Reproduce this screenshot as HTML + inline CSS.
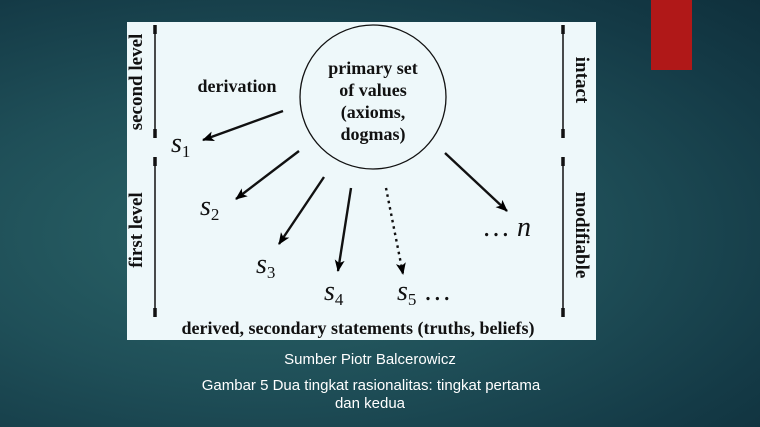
<!DOCTYPE html>
<html><head><meta charset="utf-8"><style>
html,body{margin:0;padding:0;width:760px;height:427px;overflow:hidden}
body{background:radial-gradient(ellipse at 35% 55%,#2b6568 0%,#1f4f58 45%,#143a46 80%,#0f303c 100%)}
</style></head><body>
<svg width="760" height="427" viewBox="0 0 760 427" xmlns="http://www.w3.org/2000/svg" style="position:absolute;left:0;top:0">
<defs>
<marker id="a" markerWidth="14" markerHeight="14" refX="11" refY="6" orient="auto" markerUnits="userSpaceOnUse">
<path d="M0,1 L12,6 L0,11 L3,6 Z" fill="#000"/></marker>
</defs>
<rect x="651" y="0" width="41" height="70" fill="#b01818"/>
<rect x="127" y="22" width="469" height="318" fill="#eef8fa"/>
<g stroke="#111" fill="none">
<ellipse cx="373" cy="97" rx="73" ry="72" stroke-width="1.3"/>
<g stroke-width="1.5">
<path d="M155,25 V138 M155,157 V317 M563,25 V138 M563,157 V317"/>
</g>
<g stroke-width="3.5">
<path d="M155,25 v9 M155,129 v9 M155,157 v9 M155,308 v9 M563,25 v9 M563,129 v9 M563,157 v9 M563,308 v9"/>
</g>
<g stroke-width="2.4" marker-end="url(#a)">
<line x1="283" y1="111" x2="203" y2="140"/>
<line x1="299" y1="151" x2="236" y2="199"/>
<line x1="324" y1="177" x2="279" y2="244"/>
<line x1="351" y1="188" x2="338" y2="271"/>
<line x1="386" y1="188" x2="403" y2="274" stroke-dasharray="2.5,4"/>
<line x1="445" y1="153" x2="507" y2="211"/>
</g>
</g>
<g font-family="Liberation Serif, serif" font-weight="bold" fill="#111" font-size="18" text-anchor="middle">
<text x="373" y="74">primary set</text>
<text x="373" y="96">of values</text>
<text x="373" y="118">(axioms,</text>
<text x="373" y="140">dogmas)</text>
<text x="237" y="92">derivation</text>
<text x="358" y="334">derived, secondary statements (truths, beliefs)</text>
<text font-size="19" transform="translate(142,82) rotate(-90)">second level</text>
<text font-size="19" transform="translate(142,230) rotate(-90)">first level</text>
<text font-size="19" transform="translate(576,80) rotate(90)">intact</text>
<text font-size="19" transform="translate(576,235) rotate(90)">modifiable</text>
</g>
<g font-family="Liberation Serif, serif" font-style="italic" fill="#111" font-size="28">
<text x="171" y="152">s<tspan font-size="17" font-style="normal" dy="5">1</tspan></text>
<text x="200" y="215">s<tspan font-size="17" font-style="normal" dy="5">2</tspan></text>
<text x="256" y="273">s<tspan font-size="17" font-style="normal" dy="5">3</tspan></text>
<text x="324" y="300">s<tspan font-size="17" font-style="normal" dy="5">4</tspan></text>
<text x="397" y="300">s<tspan font-size="17" font-style="normal" dy="5">5</tspan><tspan font-style="normal" dy="-5"> …</tspan></text>
<text x="482" y="236"><tspan font-style="normal">… </tspan>n</text>
</g>
<g font-family="Liberation Sans, sans-serif" fill="#fff" font-size="15" text-anchor="middle">
<text x="370" y="364">Sumber Piotr Balcerowicz</text>
<text x="371" y="390">Gambar 5 Dua tingkat rasionalitas: tingkat pertama</text>
<text x="370" y="408">dan kedua</text>
</g>
</svg>
</body></html>
